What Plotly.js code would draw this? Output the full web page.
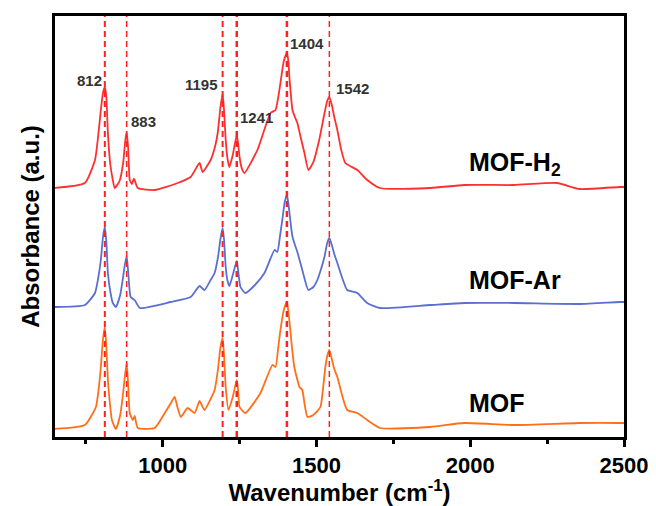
<!DOCTYPE html>
<html>
<head>
<meta charset="utf-8">
<script src="https://cdn.plot.ly/plotly-3.0.1.min.js"></script>
<style>html,body{margin:0;padding:0;background:#fff;}#chart{width:656px;height:506px;}</style>
</head>
<body>
<div id="chart"></div>
<script>
// Wavenumber (cm-1) and absorbance (a.u., offset stacked)
const wnH2 = [645,747,780,790,799,806,812,817,822,830,838,844,860,872,878,883,888,893,900,906,909,919,974,1049,1091,1120,1130,1156,1170,1179,1188,1195,1200,1205,1211,1217,1228,1241,1246,1250,1258,1266,1308,1351,1367,1376,1383,1394,1404,1409,1412,1417,1422,1430,1438,1450,1461,1474,1490,1509,1525,1535,1542,1550,1558,1568,1580,1594,1633,1665,1707,1870,1980,2142,2282,2356,2486,2500];
const absH2 = [2.49,2.54,2.77,3.00,3.27,3.44,3.50,3.40,3.04,2.72,2.57,2.49,2.56,2.75,2.95,3.05,2.88,2.57,2.53,2.58,2.57,2.49,2.47,2.54,2.60,2.74,2.65,2.77,2.90,3.04,3.30,3.43,3.25,2.97,2.78,2.70,2.82,3.02,2.92,2.80,2.68,2.64,2.87,3.24,3.27,3.40,3.54,3.76,3.84,3.75,3.60,3.42,3.27,3.20,3.14,2.98,2.84,2.67,2.75,2.97,3.22,3.36,3.40,3.32,3.20,3.07,2.88,2.74,2.67,2.57,2.49,2.49,2.52,2.52,2.54,2.48,2.50,2.50];

const wnAr = [645,747,780,790,799,806,812,817,822,830,838,848,862,870,877,883,888,896,909,926,1026,1091,1120,1136,1156,1169,1180,1188,1195,1200,1205,1211,1217,1228,1241,1246,1253,1269,1300,1331,1364,1373,1382,1389,1397,1404,1409,1415,1421,1428,1438,1454,1474,1490,1503,1515,1526,1535,1542,1550,1558,1568,1585,1600,1633,1665,1707,1870,1980,2142,2356,2486,2500];
const absAr = [1.30,1.32,1.44,1.58,1.77,2.00,2.10,1.95,1.64,1.45,1.34,1.30,1.42,1.57,1.72,1.81,1.65,1.40,1.37,1.29,1.35,1.40,1.51,1.47,1.57,1.64,1.80,1.98,2.09,1.96,1.70,1.56,1.51,1.62,1.76,1.65,1.50,1.44,1.52,1.64,1.87,1.85,2.02,2.17,2.35,2.42,2.33,2.17,2.02,1.94,1.85,1.67,1.47,1.50,1.57,1.68,1.80,1.94,1.99,1.92,1.83,1.74,1.58,1.47,1.44,1.34,1.29,1.32,1.34,1.34,1.33,1.35,1.35];

const wnMOF = [645,747,783,792,799,806,812,817,822,829,835,848,862,870,877,883,888,893,903,909,919,974,1007,1025,1039,1048,1059,1081,1104,1120,1136,1156,1169,1180,1188,1195,1200,1205,1214,1228,1241,1246,1250,1269,1318,1357,1367,1376,1383,1394,1404,1409,1415,1421,1428,1445,1454,1462,1471,1490,1513,1522,1529,1536,1542,1550,1558,1568,1585,1600,1633,1665,1707,1870,1980,2142,2356,2486,2500];
const absMOF = [0.08,0.12,0.30,0.48,0.70,0.98,1.10,0.90,0.57,0.32,0.17,0.08,0.22,0.40,0.60,0.74,0.52,0.24,0.17,0.21,0.09,0.09,0.24,0.33,0.40,0.30,0.20,0.29,0.24,0.36,0.27,0.38,0.47,0.68,0.90,0.99,0.80,0.50,0.27,0.40,0.57,0.45,0.30,0.24,0.44,0.72,0.70,0.90,1.07,1.27,1.35,1.25,1.07,0.88,0.70,0.50,0.47,0.32,0.20,0.22,0.30,0.50,0.70,0.82,0.87,0.78,0.68,0.60,0.40,0.27,0.24,0.17,0.09,0.10,0.14,0.12,0.14,0.14,0.14];

const seriesNames = ['MOF-H<sub>2</sub>', 'MOF-Ar', 'MOF'];
const peaks = [812, 883, 1195, 1241, 1404, 1542];
const peakLabels = ['812', '883', '1195', '1241', '1404', '1542'];
const peakLabelAbs = [3.57, 3.16, 3.53, 3.20, 3.94, 3.49];
const xTickVals = [1000, 1500, 2000, 2500];
const xTickText = ['1000', '1500', '2000', '2500'];

const FONT = 'Liberation Sans, Arial, sans-serif';
const colors = ['#ff2f2f', '#5b6fd0', '#ff6f1a'];
const xs = [wnH2, wnAr, wnMOF];
const ys = [absH2, absAr, absMOF];

const traces = xs.map((x, i) => ({
  x: x, y: ys[i], type: 'scatter', mode: 'lines',
  line: {color: colors[i], width: 1.8, shape: 'spline', smoothing: 0.5},
  name: seriesNames[i], showlegend: false, hoverinfo: 'skip'
}));

const lineWidths = [2, 1.5, 2, 2.5, 2.5, 1.5];
const shapes = peaks.map((p, i) => ({
  type: 'line', xref: 'x', yref: 'paper', x0: p, x1: p, y0: 0, y1: 1,
  line: {color: '#ff2020', width: lineWidths[i], dash: '6px,4px'}, layer: 'above'
}));

const anchors = ['right', 'left', 'right', 'left', 'left', 'left'];
const shifts = [-1, 2, -3, 1, 1, 5];
const annotations = peaks.map((p, i) => ({
  x: p, y: peakLabelAbs[i], xref: 'x', yref: 'y', text: '<b>' + peakLabels[i] + '</b>',
  showarrow: false, xanchor: anchors[i], yanchor: 'middle', xshift: shifts[i],
  font: {family: FONT, size: 15, color: '#333333'}
}));

const labelY = [0.648, 0.373, 0.081];
seriesNames.forEach((n, i) => annotations.push({
  x: 0.724, y: labelY[i], xref: 'paper', yref: 'paper', text: '<b>' + n + '</b>',
  showarrow: false, xanchor: 'left', yanchor: 'middle',
  font: {family: FONT, size: 25, color: '#000'}
}));

const layout = {
  width: 656, height: 506,
  margin: {l: 55, r: 32, t: 16, b: 69},
  paper_bgcolor: '#fff', plot_bgcolor: '#fff',
  font: {family: FONT, color: '#000'},
  xaxis: {
    range: [650, 2500], showgrid: false, zeroline: false,
    showline: true, mirror: true, linewidth: 3, linecolor: '#000',
    ticks: 'outside', ticklen: 7, tickwidth: 3, tickcolor: '#000',
    tickvals: xTickVals, ticktext: xTickText.map(t => '<b>' + t + '</b>'),
    tickfont: {family: FONT, size: 22, color: '#000'},
    minor: {ticks: 'outside', ticklen: 4, tickwidth: 3, tickcolor: '#000', dtick: 250, tick0: 0, showgrid: false},
    title: {text: '<b>Wavenumber (cm<sup>-1</sup>)</b>', font: {family: FONT, size: 24, color: '#000'}, standoff: 4}
  },
  yaxis: {
    range: [0, 4.21], showgrid: false, zeroline: false,
    showline: true, mirror: true, linewidth: 3, linecolor: '#000',
    ticks: '', showticklabels: false,
    title: {text: '<b>Absorbance (a.u.)</b>', font: {family: FONT, size: 24, color: '#000'}, standoff: 6}
  },
  shapes: shapes,
  annotations: annotations
};

Plotly.newPlot('chart', traces, layout, {displayModeBar: false, staticPlot: true});
</script>
</body>
</html>
